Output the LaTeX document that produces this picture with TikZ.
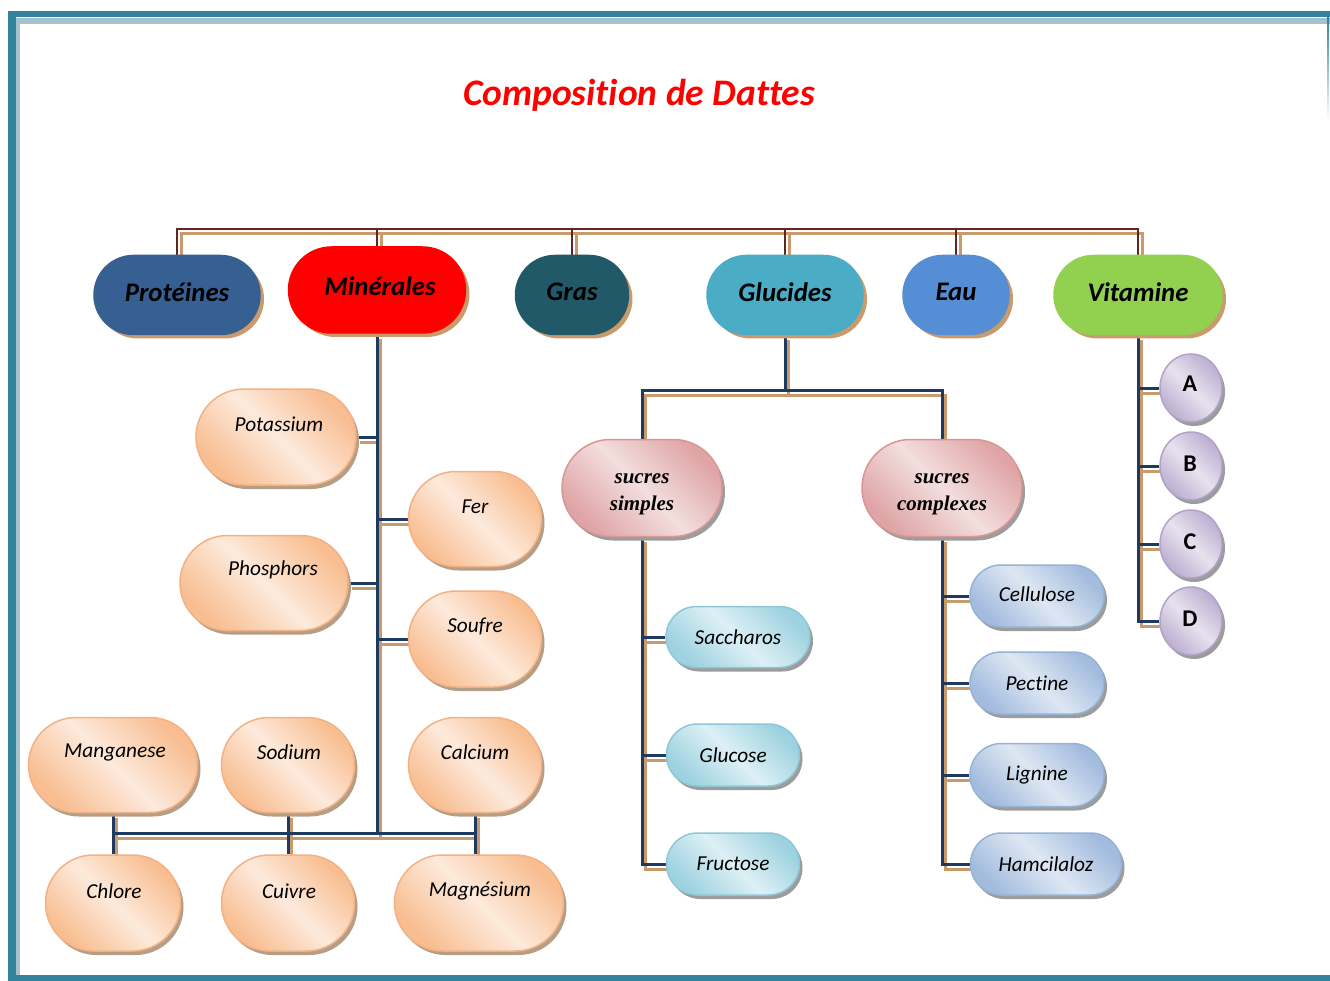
\documentclass[tikz,border=0pt]{standalone}
\usepackage{fontspec}
\setmainfont[Ligatures=CommonOff]{Carlito}
\newfontfamily\serifbi{Liberation Serif}
\usetikzlibrary{shapes.misc,shapes.geometric,shadows}
\pgfdeclarelayer{back}
\pgfdeclarelayer{bg}
\pgfsetlayers{back,bg,main}
\definecolor{frameteal}{HTML}{31849B}
\definecolor{framedot}{HTML}{A3C2CB}
\definecolor{busred}{HTML}{632523}
\definecolor{navy}{HTML}{1F3A60}
\definecolor{shtan}{HTML}{C99A6B}
\definecolor{shbr}{HTML}{B59E86}
\definecolor{shgr}{HTML}{9C9C9C}
\definecolor{cProt}{HTML}{376092}
\definecolor{cGras}{HTML}{215968}
\definecolor{cGluc}{HTML}{4BACC6}
\definecolor{cEau}{HTML}{558ED5}
\definecolor{cVit}{HTML}{92D050}
\definecolor{orDk}{HTML}{F8BD90}
\definecolor{orLt}{HTML}{FDEADC}
\definecolor{orBd}{HTML}{F4B183}
\definecolor{pkDk}{HTML}{DFA4A5}
\definecolor{pkLt}{HTML}{F3DEDE}
\definecolor{pkBd}{HTML}{D99694}
\definecolor{tlDk}{HTML}{9ED2E0}
\definecolor{tlLt}{HTML}{DDF0F5}
\definecolor{tlBd}{HTML}{8CC8D8}
\definecolor{blDk}{HTML}{A3BCDE}
\definecolor{blLt}{HTML}{DEE7F3}
\definecolor{blBd}{HTML}{95B3D7}
\definecolor{lvDk}{HTML}{BBAED0}
\definecolor{lvLt}{HTML}{E7E2EE}
\definecolor{lvBd}{HTML}{B3A2C7}
\tikzset{
  pillbase/.style={rounded rectangle, inner sep=0pt, line width=1.5pt},
  toppill/.style={pillbase, fill=#1, draw=#1,
    general shadow={fill=shtan, shadow xshift=4pt, shadow yshift=-4pt}},
  gradpill/.style n args={4}{pillbase, draw=#3, left color=#1, right color=#1,
    middle color=#2, shading angle=-45,
    general shadow={fill=#4, shadow xshift=3pt, shadow yshift=-4pt}},
  orpill/.style={gradpill={orDk}{orLt}{orBd}{shbr}},
  pkpill/.style={gradpill={pkDk}{pkLt}{pkBd}{shgr}},
  tlpill/.style={gradpill={tlDk}{tlLt}{tlBd}{shgr}},
  blpill/.style={gradpill={blDk}{blLt}{blBd}{shgr}},
  lvcirc/.style={ellipse, inner sep=0pt, line width=1.5pt, draw=lvBd,
    left color=lvDk, right color=lvDk, middle color=lvLt, shading angle=-45,
    general shadow={fill=shgr, shadow xshift=3pt, shadow yshift=-4pt},
    minimum width=62pt, minimum height=68pt},
  toptext/.style={inner sep=0pt, font=\bfseries\itshape\fontsize{26.8}{30}\selectfont},
  subtext/.style={inner sep=0pt, font=\itshape\fontsize{21.3}{24}\selectfont},
  suctext/.style={inner sep=0pt, align=center, font=\serifbi\bfseries\itshape\fontsize{21}{27}\selectfont},
  lettext/.style={inner sep=0pt, font=\bfseries\fontsize{24}{28}\selectfont},
  titletext/.style={inner sep=0pt, text=red, font=\bfseries\itshape\fontsize{37.5}{40}\selectfont},
}
\newcommand\mylinks[2]{%
  % top bus
  \draw[#1] (prot.north) -- (prot.north |- topbus) -- (vit.north |- topbus) -- (vit.north);
  \draw[#1] (minr.north) -- (minr.north |- topbus);
  \draw[#1] (gras.north) -- (gras.north |- topbus);
  \draw[#1] (gluc.north) -- (gluc.north |- topbus);
  \draw[#1] (eau.north) -- (eau.north |- topbus);
  % mineral tree
  \draw[#2] (minr.south) -- (minr.south |- mbus);
  \draw[#2] (pot.east) -- (pot.east -| minr.south);
  \draw[#2] (phos.east) -- (phos.east -| minr.south);
  \draw[#2] (fer.west) -- (fer.west -| minr.south);
  \draw[#2] (souf.west) -- (souf.west -| minr.south);
  \draw[#2] (mang.south |- mbus) -- (calc.south |- mbus);
  \draw[#2] (mang.south) -- (chl.north);
  \draw[#2] (sod.south) -- (cui.north);
  \draw[#2] (calc.south) -- (calc.south |- mag.north);
  % glucides tree
  \draw[#2] (gluc.south) -- (gluc.south |- gbus);
  \draw[#2] (ss.north) -- (ss.north |- gbus) -- (sc.north |- gbus) -- (sc.north);
  \draw[#2] (ss.south) -- (ss.south |- fru.west) -- (fru.west);
  \draw[#2] (sac.west) -- (sac.west -| ss.south);
  \draw[#2] (gls.west) -- (gls.west -| ss.south);
  \draw[#2] (sc.south) -- (sc.south |- ham.west) -- (ham.west);
  \draw[#2] (cel.west) -- (cel.west -| sc.south);
  \draw[#2] (pec.west) -- (pec.west -| sc.south);
  \draw[#2] (lig.west) -- (lig.west -| sc.south);
  % vitamins
  \draw[#2] (vit.south) -- (vit.south |- vD.west) -- (vD.west);
  \draw[#2] (vA.west) -- (vA.west -| vit.south);
  \draw[#2] (vB.west) -- (vB.west -| vit.south);
  \draw[#2] (vC.west) -- (vC.west -| vit.south);
}
\begin{document}
\begin{tikzpicture}[x=1pt,y=-1pt]
\useasboundingbox (0,0) rectangle (1330,981);
\begin{pgfonlayer}{back}
\fill[white] (0,0) rectangle (1330,981);
\end{pgfonlayer}
% frame
\fill[framedot] (16,18) rectangle (1330,24);
\fill[framedot] (16,18) rectangle (20,975);
\fill[frameteal] (8,11) rectangle (1330,17);
\fill[frameteal] (8,11) rectangle (16,981);
\fill[frameteal] (8,975) rectangle (1330,981);
\shade[top color=frameteal, bottom color=white] (1327,18) rectangle (1329,120);
% title
\node[titletext] (title) at (639,95) {Composition de Dattes};
% bus coordinates
\coordinate (topbus) at (0,229);
\coordinate (mbus) at (0,833);
\coordinate (gbus) at (0,390);
% top level
\node[toppill=cProt, minimum width=166pt, minimum height=79pt] (prot) at (177,295) {};
\node[toppill=red, minimum width=177pt, minimum height=86pt] (minr) at (377,290) {};
\node[toppill=cGras, minimum width=113pt, minimum height=79pt] (gras) at (572,295) {};
\node[toppill=cGluc, minimum width=156pt, minimum height=79pt] (gluc) at (785,295) {};
\node[toppill=cEau, minimum width=106pt, minimum height=79pt] (eau) at (956,295) {};
\node[toppill=cVit, minimum width=168pt, minimum height=79pt] (vit) at (1138,295) {};
\node[toptext] (protT) at (177,292) {Protéines};
\node[toptext] (minrT) at (380,286) {Minérales};
\node[toptext] (grasT) at (572,292) {Gras};
\node[toptext] (glucT) at (785,292) {Glucides};
\node[toptext] (eauT) at (956,292) {Eau};
\node[toptext] (vitT) at (1138,292) {Vitamine};
% minerals
\node[orpill, minimum width=160pt, minimum height=96pt] (pot) at (276,437) {};
\node[orpill, minimum width=133pt, minimum height=95pt] (fer) at (475,519) {};
\node[orpill, minimum width=168pt, minimum height=95pt] (phos) at (264,583) {};
\node[orpill, minimum width=133pt, minimum height=96pt] (souf) at (475,639) {};
\node[orpill, minimum width=169pt, minimum height=95pt] (mang) at (113,765) {};
\node[orpill, minimum width=133pt, minimum height=95pt] (sod) at (288,765) {};
\node[orpill, minimum width=133pt, minimum height=95pt] (calc) at (475,765) {};
\node[orpill, minimum width=135pt, minimum height=96pt] (chl) at (113,903) {};
\node[orpill, minimum width=133pt, minimum height=96pt] (cui) at (288,903) {};
\node[orpill, minimum width=169pt, minimum height=96pt] (mag) at (479,903) {};
\node[subtext] (potT) at (279,424) {Potassium};
\node[subtext] (ferT) at (475,507) {Fer};
\node[subtext] (phosT) at (273,570) {Phosphors};
\node[subtext] (soufT) at (475,626) {Soufre};
\node[subtext] (mangT) at (115,752) {Manganese};
\node[subtext] (sodT) at (289,752) {Sodium};
\node[subtext] (calcT) at (475,752) {Calcium};
\node[subtext] (chlT) at (114,891) {Chlore};
\node[subtext] (cuiT) at (289,891) {Cuivre};
\node[subtext] (magT) at (480,891) {Magnésium};
% glucides
\node[pkpill, minimum width=160pt, minimum height=97pt] (ss) at (642,488) {};
\node[pkpill, minimum width=160pt, minimum height=97pt] (sc) at (942,488) {};
\node[suctext] (ssT) at (642,494) {sucres\\simples};
\node[suctext] (scT) at (942,494) {sucres\\complexes};
\node[tlpill, minimum width=144pt, minimum height=61pt] (sac) at (738,637) {};
\node[tlpill, minimum width=133pt, minimum height=62pt] (gls) at (733,755) {};
\node[tlpill, minimum width=133pt, minimum height=62pt] (fru) at (733,864) {};
\node[subtext] (sacT) at (738,637) {Saccharos};
\node[subtext] (glsT) at (733,755) {Glucose};
\node[subtext] (fruT) at (733,864) {Fructose};
\node[blpill, minimum width=134pt, minimum height=62pt] (cel) at (1037,596) {};
\node[blpill, minimum width=134pt, minimum height=62pt] (pec) at (1037,683) {};
\node[blpill, minimum width=134pt, minimum height=63pt] (lig) at (1037,775) {};
\node[blpill, minimum width=151pt, minimum height=62pt] (ham) at (1046,864) {};
\node[subtext] (celT) at (1037,594) {Cellulose};
\node[subtext] (pecT) at (1037,683) {Pectine};
\node[subtext] (ligT) at (1037,775) {Lignine};
\node[subtext] (hamT) at (1046,864) {Hamcilaloz};
% vitamins
\node[lvcirc] (vA) at (1191,388) {};
\node[lvcirc] (vB) at (1191,466) {};
\node[lvcirc] (vC) at (1191,544) {};
\node[lvcirc] (vD) at (1191,621) {};
\node[lettext] (vAT) at (1190,384) {A};
\node[lettext] (vBT) at (1190,464) {B};
\node[lettext] (vCT) at (1190,542) {C};
\node[lettext] (vDT) at (1190,619) {D};
% connectors
\begin{pgfonlayer}{bg}
\mylinks{draw=shtan, line width=3pt, transform canvas={xshift=4pt, yshift=-5pt}}{draw=shtan, line width=3pt, transform canvas={xshift=3pt, yshift=-5pt}}
\mylinks{draw=busred, line width=2.5pt}{draw=navy, line width=3pt}
\end{pgfonlayer}
\end{tikzpicture}
\end{document}
